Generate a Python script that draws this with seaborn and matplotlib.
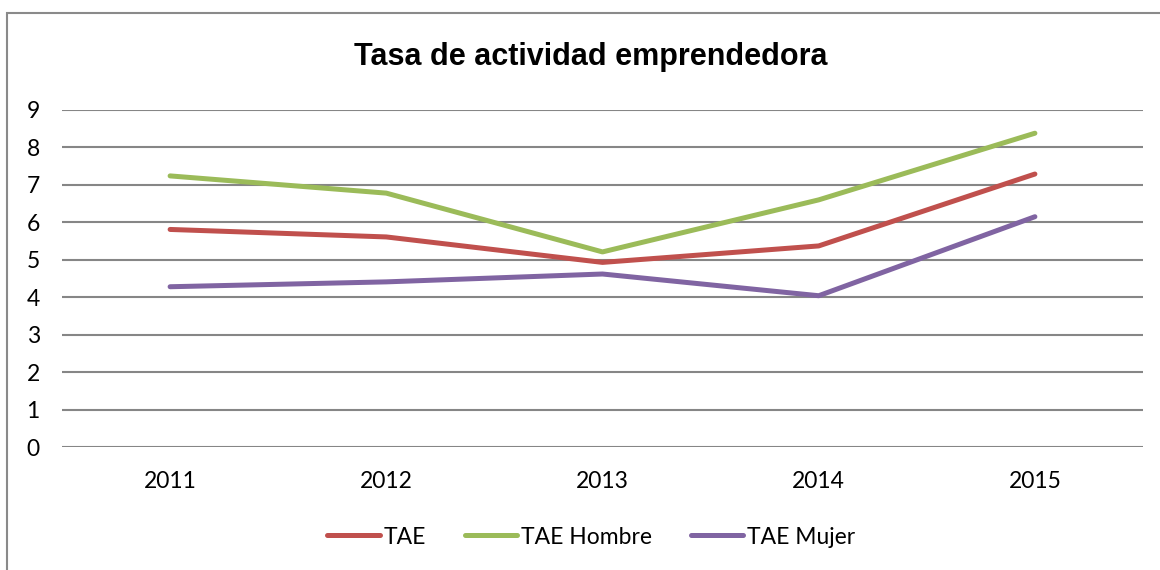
import pandas as pd
import matplotlib.pyplot as plt
import seaborn as sns
from matplotlib.patches import Rectangle

# Data
years = [2011, 2012, 2013, 2014, 2015]
tae = [5.81, 5.61, 4.93, 5.37, 7.29]
tae_hombre = [7.24, 6.78, 5.21, 6.60, 8.38]
tae_mujer = [4.28, 4.41, 4.62, 4.04, 6.15]
series_names = ["TAE", "TAE Hombre", "TAE Mujer"]
colors = ["#C0504D", "#9BBB59", "#8064A2"]

df = pd.DataFrame({
    "year": years * 3,
    "value": tae + tae_hombre + tae_mujer,
    "serie": [series_names[0]] * 5 + [series_names[1]] * 5 + [series_names[2]] * 5,
})

sns.set_theme(style="white")
plt.rcParams["font.family"] = ["Lato", "DejaVu Sans"]
plt.rcParams["text.color"] = "black"

fig = plt.figure(figsize=(11.6, 5.7), dpi=100)
ax = fig.add_axes([62 / 1160, 123 / 570, 1081 / 1160, 337 / 570])

sns.lineplot(data=df, x="year", y="value", hue="serie", palette=colors,
             linewidth=3.6, ax=ax, legend=False, solid_capstyle="round")

ax.set_xlim(2010.5, 2015.5)
ax.set_ylim(0, 9)
ax.set_yticks(range(10))
ax.set_xticks(years)
ax.set_xticklabels([str(y) for y in years])
ax.yaxis.grid(True, color="#868686", linewidth=1.5)
ax.set_axisbelow(True)
for s in ax.spines.values():
    s.set_visible(False)
ax.tick_params(axis="both", length=0, labelsize=16.5, colors="black")
ax.tick_params(axis="x", pad=17)
ax.tick_params(axis="y", pad=16)
ax.set_xlabel("")
ax.set_ylabel("")

fig.text(591 / 1160, 1 - 57 / 570, "Tasa de actividad emprendedora",
         ha="center", va="center", fontsize=22, fontweight="bold", color="black",
         family=["Liberation Sans Narrow", "Liberation Sans", "DejaVu Sans"])

handles = [plt.Line2D([], [], color=c, linewidth=3.6, solid_capstyle="round") for c in colors]
fig.legend(handles, series_names, loc="center", bbox_to_anchor=(591 / 1160, 1 - 537 / 570),
           ncol=3, frameon=False, fontsize=16.5, handlelength=2.3, handletextpad=0.15,
           columnspacing=1.7)

fig.patches.append(Rectangle((7 / 1160, -0.1), 1.2, 1 - 13 / 570 + 0.1,
                             transform=fig.transFigure, fill=False,
                             edgecolor="#8a8a8a", linewidth=1.5))

fig.savefig("out.png", dpi=100)
